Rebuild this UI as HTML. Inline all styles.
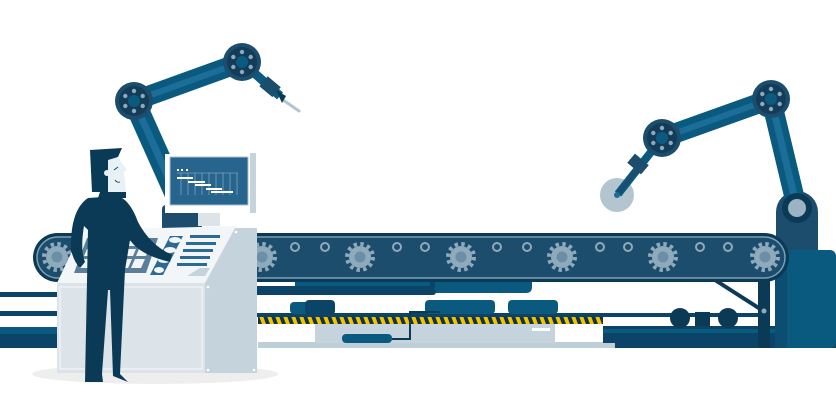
<!DOCTYPE html>
<html><head><meta charset="utf-8"><style>html,body{margin:0;padding:0;background:#fff}svg{display:block}</style></head><body>
<svg width="836" height="408" viewBox="0 0 836 408" xmlns="http://www.w3.org/2000/svg">
<defs>
<g id="gear"><circle r="11" fill="#8eaabb"/><circle r="13" fill="none" stroke="#8eaabb" stroke-width="4" stroke-dasharray="3.4 3.4"/><circle r="5.5" fill="#6a8fa6"/></g>
<g id="hole"><circle r="4" fill="none" stroke="#8eaabb" stroke-width="2"/></g>
<g id="joint"><circle r="19" fill="#1d4d6d"/><circle r="15" fill="#123c58"/><circle r="6" fill="#0b5a80"/>
<g fill="#8eaabb"><circle cx="0" cy="-10" r="2.2"/><circle cx="8.7" cy="-5" r="2.2"/><circle cx="8.7" cy="5" r="2.2"/><circle cx="0" cy="10" r="2.2"/><circle cx="-8.7" cy="5" r="2.2"/><circle cx="-8.7" cy="-5" r="2.2"/></g></g>
<pattern id="haz" width="8" height="8" patternUnits="userSpaceOnUse" patternTransform="skewX(20)"><rect width="8" height="8" fill="#14324a"/><rect width="4" height="8" fill="#f2c400"/></pattern>
</defs>
<!-- left floor lines -->
<rect x="0" y="292" width="60" height="5" fill="#0b4466"/>
<rect x="0" y="311" width="60" height="5" fill="#0b4466"/>
<rect x="0" y="327" width="60" height="7" fill="#0a5a80"/>
<rect x="0" y="334" width="60" height="14" fill="#0b4466"/>
<!-- lower machinery -->
<rect x="258" y="342" width="357" height="6" fill="#bfcfd9"/>
<rect x="315" y="324" width="240" height="19" fill="#c5d3dc"/>
<rect x="532" y="328" width="18" height="3" fill="#fff"/>
<rect x="258" y="317" width="345" height="7" fill="url(#haz)"/>
<rect x="250" y="313" width="510" height="4" fill="#0b4466"/>
<rect x="290" y="302" width="40" height="12" rx="4" fill="#0a5a80"/>
<rect x="305" y="300" width="30" height="15" rx="4" fill="#0b4466"/>
<rect x="425" y="300" width="70" height="14" rx="4" fill="#0a5a80"/>
<rect x="508" y="300" width="50" height="14" rx="4" fill="#0a5a80"/>
<rect x="342" y="334" width="50" height="9" rx="4" fill="#0a5a80"/>
<path d="M392 339 H410 V312 H440" fill="none" stroke="#0b3a57" stroke-width="2"/>
<path d="M603 326 H836 V348 H615 V343 H603 Z" fill="#0b4466"/>
<rect x="603" y="329" width="233" height="4" fill="#0a5a80"/>
<circle cx="680" cy="318" r="10" fill="#0b3a57"/><circle cx="728" cy="318" r="10" fill="#0b3a57"/>
<rect x="695" y="312" width="15" height="14" fill="#0b3a57"/>
<!-- right robot base -->
<rect x="775" y="250" width="61" height="98" rx="6" fill="#0a5a80"/>
<rect x="775" y="250" width="12" height="98" fill="#0b4e72"/>
<path d="M776 250 V212 A21 21 0 0 1 818 212 V250 Z" fill="#1d4d6d"/>
<!-- right robot arm -->
<line x1="797" y1="208" x2="771" y2="99" stroke="#0a5a80" stroke-width="20" stroke-linecap="round"/>
<line x1="797" y1="208" x2="771" y2="99" stroke="#1c6d98" stroke-width="7"/>
<circle cx="797" cy="208" r="15" fill="#0b3a57"/><circle cx="797" cy="208" r="9" fill="#9bb3c2"/>
<line x1="771" y1="99" x2="662" y2="138" stroke="#0a5a80" stroke-width="20"/>
<line x1="771" y1="99" x2="662" y2="138" stroke="#1c6d98" stroke-width="6"/>
<circle cx="617" cy="195" r="17" fill="#b3c5cf"/>
<line x1="662" y1="138" x2="618" y2="194" stroke="#0a5a80" stroke-width="8"/>
<line x1="640" y1="166" x2="618" y2="194" stroke="#1d4d6d" stroke-width="4" stroke-linecap="round"/>
<circle cx="617" cy="195" r="3" fill="#1c6d98"/>
<rect x="629" y="158" width="18" height="12" fill="#1d4d6d" transform="rotate(40 638 164)"/>
<use href="#joint" x="771" y="99"/>
<use href="#joint" x="662" y="138"/>
<!-- support legs -->
<line x1="715" y1="280" x2="765" y2="312" stroke="#0b3a57" stroke-width="4"/>
<rect x="758" y="275" width="12" height="73" fill="#0b3a57"/>
<circle cx="764" cy="311" r="2.5" fill="#8eaabb"/>
<!-- under belt bar -->
<path d="M295 278 H532 V287 Q532 293 526 293 H301 Q295 293 295 287Z" fill="#0a5a80"/>
<path d="M250 290 H430 Q435 290 435 286 V282 H430 V286 H250Z" fill="#0b4466"/>
<rect x="250" y="289" width="186" height="6" rx="3" fill="#0b4466"/>
<!-- conveyor belt -->
<rect x="33" y="233" width="756" height="49" rx="24.5" fill="#0b3a57"/>
<rect x="37" y="237" width="748" height="41" rx="20.5" fill="#1d4d6d" stroke="#7d9fb3" stroke-width="1.5"/>
<use href="#gear" x="57" y="257"/><use href="#gear" x="262" y="257"/><use href="#gear" x="360" y="257"/><use href="#gear" x="461" y="257"/><use href="#gear" x="562" y="257"/><use href="#gear" x="663" y="257"/><use href="#gear" x="765" y="257"/>
<use href="#hole" x="295" y="247"/><use href="#hole" x="325" y="247"/><use href="#hole" x="397" y="247"/><use href="#hole" x="425" y="247"/><use href="#hole" x="497" y="247"/><use href="#hole" x="527" y="247"/><use href="#hole" x="600" y="247"/><use href="#hole" x="628" y="247"/><use href="#hole" x="700" y="247"/><use href="#hole" x="728" y="247"/>
<!-- left robot arm -->
<line x1="185" y1="215" x2="134" y2="101" stroke="#0a5a80" stroke-width="22"/>
<line x1="185" y1="215" x2="134" y2="101" stroke="#1c6d98" stroke-width="7"/>
<line x1="134" y1="101" x2="242" y2="62" stroke="#0a5a80" stroke-width="20"/>
<line x1="134" y1="101" x2="242" y2="62" stroke="#1c6d98" stroke-width="6"/>
<line x1="242" y1="62" x2="280" y2="96" stroke="#0a5a80" stroke-width="9"/>
<line x1="283" y1="100" x2="299" y2="111" stroke="#b3c5cf" stroke-width="3" stroke-linecap="round"/>
<rect x="262" y="80" width="17" height="13" fill="#1d4d6d" transform="rotate(40 270 86)"/>
<polygon points="276,90 286,96 282,103" fill="#0b3a57"/>
<use href="#joint" x="134" y="101"/>
<use href="#joint" x="242" y="62"/>
<!-- monitor -->
<rect x="162" y="205" width="40" height="28" rx="4" fill="#1d4d6d"/>
<rect x="198" y="212" width="22" height="14" fill="#dde4e9"/>
<rect x="165" y="154" width="85" height="59" fill="#fff"/>
<rect x="170" y="157" width="78" height="48" fill="#27658e" stroke="#a8bfcd" stroke-width="1"/>
<rect x="250" y="153" width="6" height="60" fill="#c5d3dc"/>
<g fill="#fff"><rect x="177" y="169" width="2" height="2"/><rect x="181" y="169" width="2" height="2"/><rect x="186" y="169" width="2" height="2"/></g>
<g stroke="#9cb8ca" stroke-width="0.6"><line x1="177" y1="173" x2="238" y2="173"/><line x1="181" y1="173" x2="181" y2="195"/><line x1="188" y1="173" x2="188" y2="195"/><line x1="195" y1="173" x2="195" y2="195"/><line x1="202" y1="173" x2="202" y2="195"/><line x1="209" y1="173" x2="209" y2="195"/><line x1="216" y1="173" x2="216" y2="195"/><line x1="223" y1="173" x2="223" y2="195"/><line x1="230" y1="173" x2="230" y2="195"/><line x1="237" y1="173" x2="237" y2="195"/></g>
<g fill="#fff"><rect x="177" y="177" width="16" height="2"/><rect x="188" y="181" width="17" height="2"/><rect x="195" y="184" width="16" height="2"/><rect x="206" y="188" width="16" height="2"/><rect x="211" y="191" width="22" height="2"/></g>
<!-- shadow -->
<ellipse cx="155" cy="374" rx="123" ry="10" fill="#eeeeee"/>
<!-- console -->
<polygon points="57,283 82,230 237,226 207,283" fill="#f3f6f8"/>
<rect x="57" y="283" width="150" height="90" fill="#dde4e9"/>
<rect x="60" y="287" width="142" height="82" fill="none" stroke="#f3f6f8" stroke-width="1.2"/>
<polygon points="205,283 235,228 257,228 257,373 205,373" fill="#c5d3dc"/>
<g fill="#fff"><circle cx="236" cy="232" r="1.3"/><circle cx="208" cy="287" r="1.3"/><circle cx="208" cy="370" r="1.3"/><circle cx="254" cy="370" r="1.3"/></g>
<!-- keypad -->
<polygon points="74,273 87,238 158,238 146,273" fill="#5b7f99"/>
<g fill="#f3f6f8">
<polygon points="79,268 83,259 93,259 89,268"/><polygon points="92,268 96,259 106,259 102,268"/><polygon points="105,268 109,259 119,259 115,268"/><polygon points="118,268 122,259 132,259 128,268"/><polygon points="131,268 135,259 145,259 141,268"/>
<polygon points="84,256 87,249 97,249 94,256"/><polygon points="97,256 100,249 110,249 107,256"/><polygon points="110,256 113,249 123,249 120,256"/><polygon points="123,256 126,249 136,249 133,256"/><polygon points="136,256 139,249 149,249 146,256"/>
<polygon points="88,246 90,241 100,241 98,246"/><polygon points="101,246 103,241 113,241 111,246"/><polygon points="114,246 116,241 126,241 124,246"/><polygon points="127,246 129,241 139,241 137,246"/><polygon points="140,246 142,241 152,241 150,246"/>
</g>
<polygon points="150,275 170,236 183,236 163,275" fill="#2a6a93"/>
<g fill="#f3f6f8"><ellipse cx="175" cy="240" rx="6" ry="3"/><ellipse cx="170" cy="250" rx="6" ry="3"/><ellipse cx="164" cy="260" rx="6" ry="3"/><ellipse cx="159" cy="270" rx="5" ry="3"/></g>
<g fill="#2a6a93"><rect x="190" y="235" width="30" height="3"/><rect x="186" y="242" width="30" height="3"/><rect x="183" y="249" width="30" height="3"/><rect x="180" y="256" width="30" height="3"/><rect x="177" y="263" width="30" height="3"/></g>
<polygon points="187,276 200,268 210,268 205,276" fill="#c5d3dc"/>
<!-- person -->
<path d="M88 198 Q70 210 71 250 Q74 262 80 268 L85 262 Q80 250 84 226 L88 230 L85 382 L103 382 L102 374 L108 290 L110 290 L113 376 L128 382 L120 374 L125 270 L130 240 Q140 255 170 262 L172 255 Q150 245 138 222 Q130 200 118 196 Z" fill="#0b3a57"/>
<path d="M90 150 L122 148 L118 157 L110 160 L108 192 L92 192 Z" fill="#0b3a57"/>
<path d="M108 160 L118 157 L127 170 L124 172 L126 192 L108 192 Z" fill="#e8f2f6"/>
<circle cx="107" cy="173" r="3" fill="#e8f2f6"/>
<path d="M114 170 L118 167" stroke="#0b3a57" stroke-width="0.8"/>
<path d="M115 180 Q117 183 120 182" fill="none" stroke="#0b3a57" stroke-width="0.8"/>
<path d="M100 192 L126 192 L126 198 L98 198 Z" fill="#0b3a57"/>
</svg>
</body></html>
